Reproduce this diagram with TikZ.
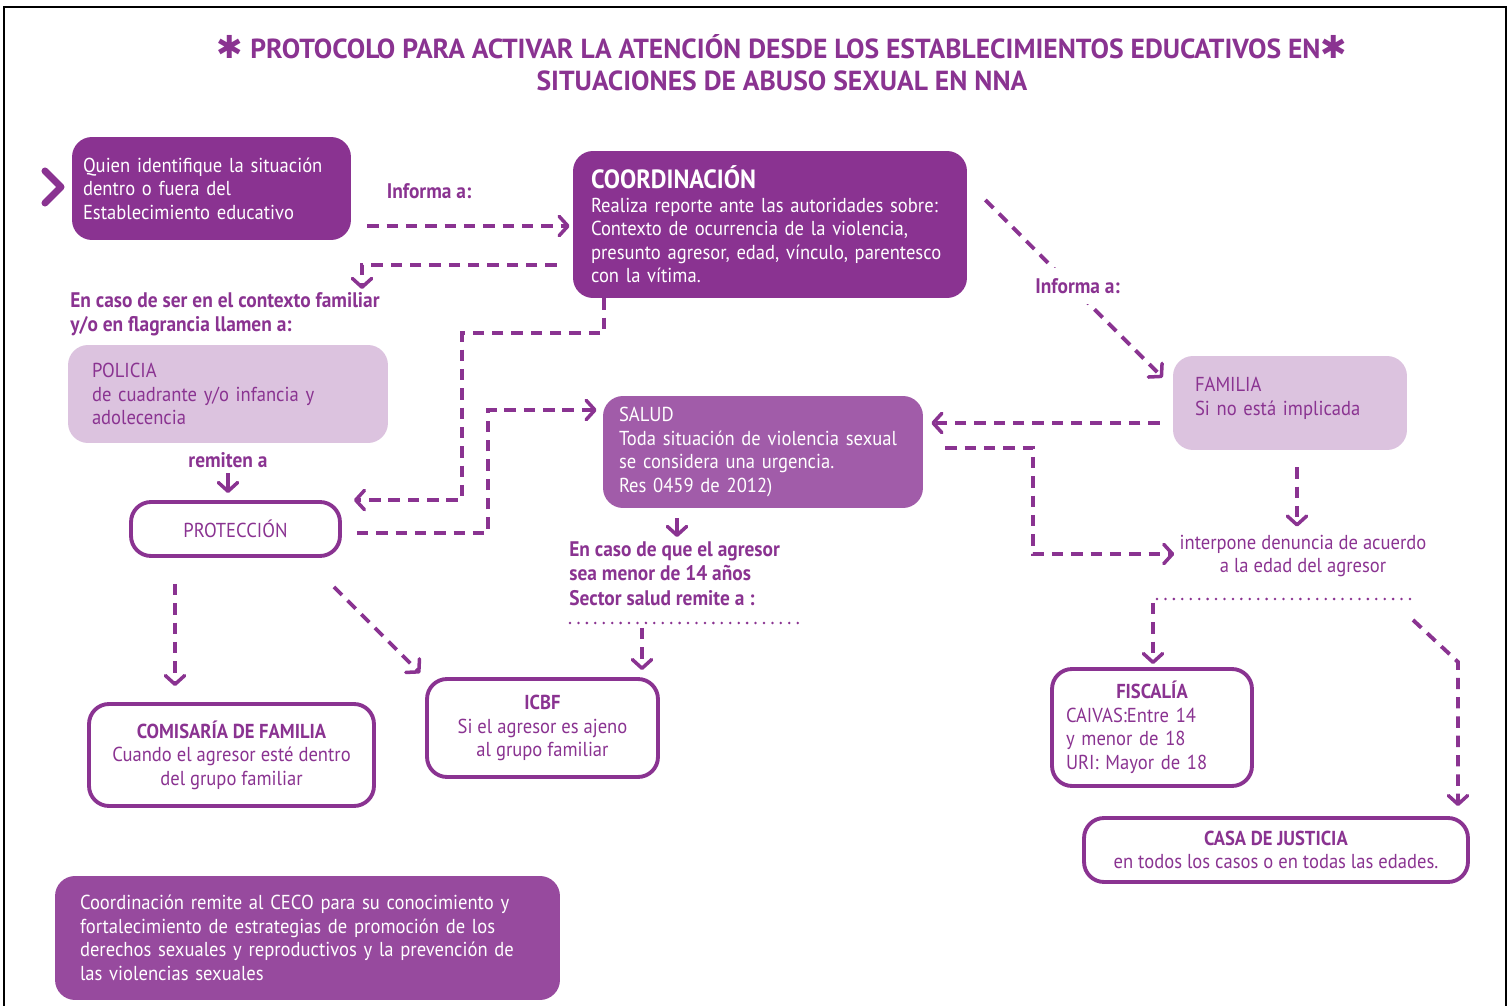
\documentclass[tikz,border=0pt]{standalone}
\usepackage{fontspec}
\setmainfont[FakeStretch=0.92]{PT Sans}
\newfontfamily\titlefont{PT Sans}
\newfontfamily\symfont{DejaVu Sans}
\usetikzlibrary{arrows.meta,calc}
\definecolor{morado}{HTML}{8A3391}
\definecolor{lila}{HTML}{DCC3DF}
\definecolor{malva}{HTML}{A15CA9}
\definecolor{ciruela}{HTML}{974A9E}
\hyphenpenalty=10000
\exhyphenpenalty=10000
\begin{document}
\begin{tikzpicture}[x=0.02cm,y=-0.02cm]
\tikzstyle{caja}=[rounded corners=0.4cm, inner ysep=0pt, font=\fontsize{11.5}{13.4}\selectfont]
\tikzstyle{llena}=[caja, fill=morado, text=white, align=left]
\tikzstyle{clara}=[caja, fill=lila, text=morado, align=left]
\tikzstyle{borde}=[caja, draw=morado, line width=2.2pt, fill=white, text=morado, align=center]
\tikzstyle{flujo}=[morado, line width=2.2pt, dash pattern=on 6.5pt off 4.5pt, -{Straight Barb[length=5pt,width=11pt,line width=2pt,round]}]
\tikzstyle{flecha}=[morado, line width=2.2pt, -{Straight Barb[length=5pt,width=11pt,line width=2pt,round]}]
\tikzstyle{puntos}=[morado, line width=1.6pt, line cap=round, dash pattern=on 0pt off 4.8pt]
\tikzstyle{etiq}=[morado, font=\bfseries\fontsize{12}{14}\selectfont, align=left, inner sep=0pt]
\useasboundingbox (0,0) rectangle (1512,1006);
\draw[line width=1.4pt] (4,1012) -- (4,7) -- (1506,7) -- (1506,1012);
% titulo
\node[morado, font=\titlefont\bfseries\fontsize{15.7}{18}\selectfont, align=center] (titulo) at (782,63)
  {{\symfont\fontsize{18}{18}\selectfont ✱}\ PROTOCOLO PARA ACTIVAR LA ATENCIÓN DESDE LOS ESTABLECIMIENTOS EDUCATIVOS EN{\symfont\fontsize{18}{18}\selectfont ✱}\\SITUACIONES DE ABUSO SEXUAL EN NNA};
% cajas
\node[llena, text width=5.14cm, inner xsep=0.22cm, minimum height=2.06cm] (quien) at (211.5,188.5)
  {Quien identifique la situación\\dentro o fuera del\\Establecimiento educativo};
\node[llena, text width=7.16cm, inner xsep=0.36cm, minimum height=2.94cm] (coord) at (770,224.5)
  {{\bfseries\fontsize{15}{16}\selectfont COORDINACIÓN}\\Realiza reporte ante las autoridades sobre:\\Contexto de ocurrencia de la violencia,\\presunto agresor, edad, vínculo, parentesco\\con la vítima.};
\node[clara, text width=5.44cm, inner xsep=0.48cm, minimum height=1.96cm] (policia) at (228,394)
  {POLICIA\\de cuadrante y/o infancia y\\adolecencia};
\node[borde, minimum width=4.18cm, minimum height=1.08cm] (prot) at (235.5,529) {PROTECCIÓN};
\node[caja, fill=malva, text=white, align=left, text width=5.76cm, inner xsep=0.32cm, minimum height=2.24cm] (salud) at (763,452)
  {SALUD\\Toda situación de violencia sexual\\se considera una urgencia.\\Res 0459 de 2012)};
\node[borde, minimum width=4.62cm, minimum height=1.96cm] (icbf) at (542.5,728)
  {{\bfseries ICBF}\\Si el agresor es ajeno\\al grupo familiar};
\node[borde, minimum width=5.7cm, minimum height=2.04cm] (comisaria) at (231.5,755)
  {{\bfseries COMISARÍA DE FAMILIA}\\Cuando el agresor esté dentro\\del grupo familiar};
\node[clara, text width=3.8cm, inner xsep=0.44cm, minimum height=1.88cm] (familia) at (1290,403)
  {FAMILIA\\Si no está implicada\\[-6pt]\mbox{}};
\node[borde, align=left, text width=3.44cm, inner xsep=0.28cm, minimum height=2.34cm] (fiscalia) at (1152,727.5)
  {\makebox[\hsize]{\bfseries FISCALÍA}\\CAIVAS:Entre 14\\y menor de 18\\URI: Mayor de 18};
\node[borde, minimum width=7.68cm, minimum height=1.28cm] (casa) at (1276,850)
  {{\bfseries CASA DE JUSTICIA}\\en todos los casos o en todas las edades.};
\node[caja, fill=ciruela, text=white, align=left, text width=9.1cm, inner xsep=0.5cm, minimum height=2.48cm] (ceco) at (307.5,938)
  {Coordinación remite al CECO para su conocimiento y\\fortalecimiento de estrategias de promoción de los\\derechos sexuales y reproductivos y la prevención de\\las violencias sexuales};
% textos sueltos
\node[etiq] (inf1) at (429,191) {Informa a:};
\node[etiq, anchor=north west] (flag) at (70,292) {En caso de ser en el contexto familiar\\y/o en flagrancia llamen a:};
\node[etiq] (remiten) at (228,460) {remiten a};
\node[etiq, anchor=north west] (menor) at (569,541) {En caso de que el agresor\\sea menor de 14 años\\Sector salud remite a :};
\node[morado, font=\fontsize{11.5}{13.4}\selectfont, align=center, inner sep=0pt] (denuncia) at (1303,556)
  {interpone denuncia de acuerdo\\a la edad del agresor};
% flecha de entrada
\coordinate (v1) at (45,171);
\coordinate (v2) at (61,187);
\coordinate (v3) at (45,203);
\draw[morado, line width=4pt, line cap=round, line join=round] (v1) -- (v2) -- (v3);
% conectores
\draw[flujo] ($(quien.east |- coord.west)+(16,1.5)$) -- ($(coord.west)+(-3,1.5)$);
\coordinate (b1) at (362,265);
\draw[flujo] ($(coord.west |- b1)+(-16,0)$) -- (b1) -- ($(flag.north west -| b1)+(0,-3)$);
\coordinate (b3) at (604,333);
\coordinate (b4) at (462,333);
\draw[flujo] (coord.south -| b3) -- (b3) -- (b4) -- (b4 |- prot.north) -- ($(prot.north east)+(12,0)$);
\coordinate (b5) at (488,533);
\coordinate (b6) at (488,410);
\draw[flujo] ($(prot.east |- b5)+(15,0)$) -- (b5) -- (b6) -- ($(salud.west |- b6)+(-6,0)$);
\draw[flecha, shorten <=3pt, shorten >=4pt] (remiten.south) -- (remiten.south |- prot.north);
\draw[flujo] ($(prot.south)+(-60.5,26)$) -- ($(comisaria.north)+(-56.5,-16)$);
\draw[flujo] ($(prot.south east)+(-8,29)$) -- ($(icbf.north west)+(-5,-4)$);
\draw[flecha] ($(salud.south)+(-86,10)$) -- ($(menor.north west)+(108,-4)$);
\coordinate (p1) at (570,623);
\coordinate (p2) at (802,623);
\draw[puntos] (p1) -- (p2);
\coordinate (b7) at (642,628);
\draw[flujo] (b7) -- ($(b7 |- icbf.north)+(0,-7)$);
\draw[flujo] ($(coord.east)+(18,-24.5)$) -- ($(familia.north west)+(-10,22)$);
\node[etiq, anchor=west, fill=white, inner xsep=0pt, inner ysep=6pt] (inf2) at (1035,286) {Informa a:};
\draw[flujo] ($(familia.west)+(-13,20)$) -- ($(salud.east)+(8,-29)$);
\coordinate (b8) at (1033,448);
\coordinate (b9) at (1033,554);
\draw[flujo] ($(salud.east |- b8)+(22,0)$) -- (b8) -- (b9) -- ($(denuncia.west |- b9)+(-5,0)$);
\draw[flujo] ($(familia.south)+(7,17)$) -- ($(denuncia.north)+(-6,-8)$);
\coordinate (p3) at (1157,599);
\coordinate (p4) at (1415,599);
\draw[puntos] (p3) -- (p4);
\coordinate (b10) at (1153,603);
\draw[flujo] (b10) -- ($(b10 |- fiscalia.north)+(0,-3)$);
\coordinate (b11) at (1413,620);
\coordinate (b12) at (1458,662);
\draw[flujo] (b11) -- (b12) -- ($(b12 |- casa.north)+(0,-10)$);
\end{tikzpicture}
\end{document}
